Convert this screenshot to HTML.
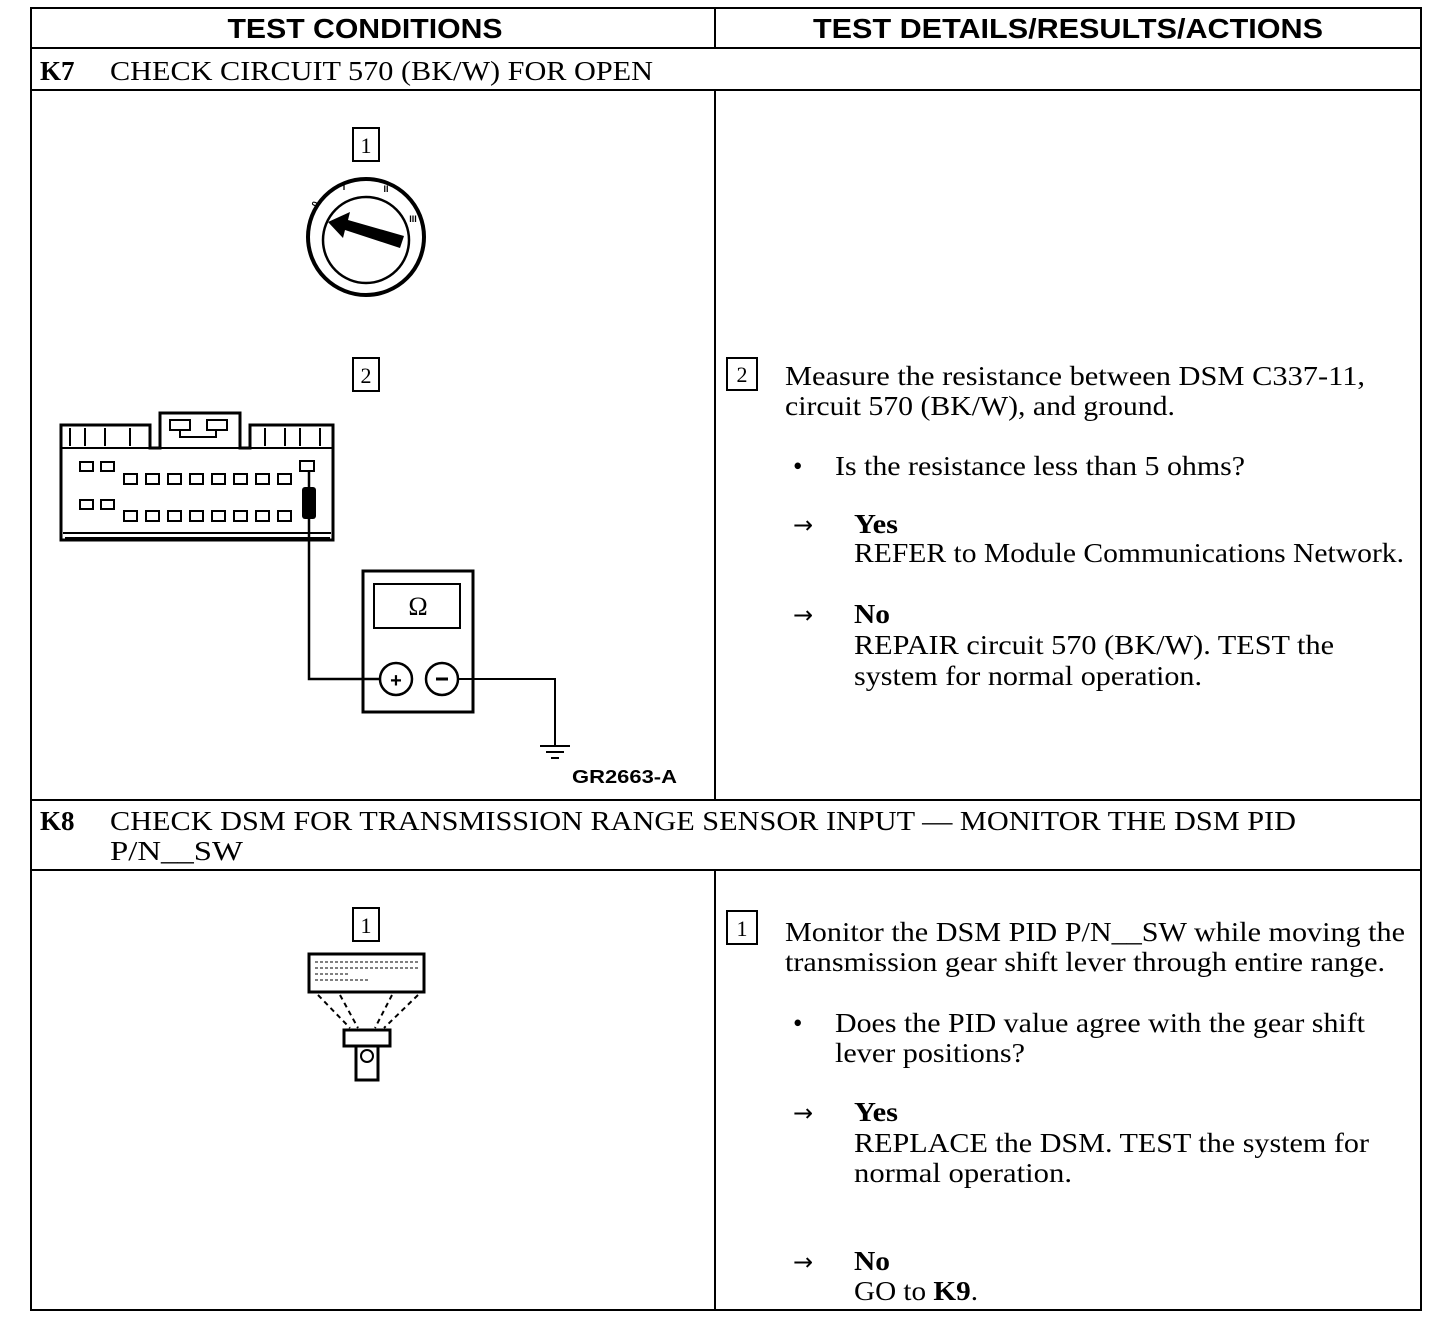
<!DOCTYPE html>
<html><head><meta charset="utf-8"><style>
html,body{margin:0;padding:0;background:#fff;}
svg{display:block}
.s{font-family:"Liberation Serif",serif;font-size:27px;fill:#000}
.h{font-family:"Liberation Sans",sans-serif;font-weight:bold;font-size:28px;fill:#000}
.b{font-weight:bold}
.a{font-family:"DejaVu Sans",sans-serif;font-size:24px;fill:#000}
</style></head><body>
<svg width="1456" height="1318" viewBox="0 0 1456 1318" xmlns="http://www.w3.org/2000/svg">
<g stroke="#000" stroke-width="2" fill="none">
<rect x="31" y="8" width="1390" height="1302"/>
<line x1="31" y1="48" x2="1421" y2="48"/>
<line x1="31" y1="90" x2="1421" y2="90"/>
<line x1="31" y1="800" x2="1421" y2="800"/>
<line x1="31" y1="870" x2="1421" y2="870"/>
<line x1="715" y1="8" x2="715" y2="48"/>
<line x1="715" y1="90" x2="715" y2="800"/>
<line x1="715" y1="870" x2="715" y2="1310"/>
</g>
<text class="h" x="365" y="38" text-anchor="middle" textLength="275" lengthAdjust="spacingAndGlyphs">TEST CONDITIONS</text>
<text class="h" x="1068" y="38" text-anchor="middle" textLength="510" lengthAdjust="spacingAndGlyphs">TEST DETAILS/RESULTS/ACTIONS</text>
<text class="s" x="40" y="80"><tspan class="b">K7</tspan></text>
<text class="s" x="110" y="80" textLength="543" lengthAdjust="spacingAndGlyphs">CHECK CIRCUIT 570 (BK/W) FOR OPEN</text>
<text class="s" x="40" y="830"><tspan class="b">K8</tspan></text>
<text class="s" x="110" y="830" textLength="1186" lengthAdjust="spacingAndGlyphs">CHECK DSM FOR TRANSMISSION RANGE SENSOR INPUT — MONITOR THE DSM PID</text>
<text class="s" x="110" y="860" textLength="133" lengthAdjust="spacingAndGlyphs">P/N__SW</text>

<g stroke="#000" stroke-width="2" fill="none">
<rect x="353" y="128" width="26" height="33"/>
<rect x="353" y="358" width="26" height="33"/>
<rect x="727" y="358" width="30" height="32"/>
<rect x="353" y="908" width="26" height="33"/>
<rect x="727" y="911" width="30" height="33"/>
</g>
<g class="s" style="font-size:22px" text-anchor="middle">
<text x="366" y="153">1</text><text x="366" y="383">2</text><text x="742" y="382">2</text>
<text x="366" y="933">1</text><text x="742" y="936">1</text>
</g>

<text class="s" x="785" y="385" textLength="580" lengthAdjust="spacingAndGlyphs">Measure the resistance between DSM C337-11,</text>
<text class="s" x="785" y="415" textLength="390" lengthAdjust="spacingAndGlyphs">circuit 570 (BK/W), and ground.</text>
<text class="s" x="793" y="475">•</text>
<text class="s" x="835" y="475" textLength="410" lengthAdjust="spacingAndGlyphs">Is the resistance less than 5 ohms?</text>
<text class="a" x="793" y="533">→</text><text class="s b" x="854" y="533" textLength="44" lengthAdjust="spacingAndGlyphs">Yes</text>
<text class="s" x="854" y="562" textLength="550" lengthAdjust="spacingAndGlyphs">REFER to Module Communications Network.</text>
<text class="a" x="793" y="623">→</text><text class="s b" x="854" y="623" textLength="36" lengthAdjust="spacingAndGlyphs">No</text>
<text class="s" x="854" y="654" textLength="480" lengthAdjust="spacingAndGlyphs">REPAIR circuit 570 (BK/W). TEST the</text>
<text class="s" x="854" y="685" textLength="348" lengthAdjust="spacingAndGlyphs">system for normal operation.</text>

<text class="s" x="785" y="941" textLength="620" lengthAdjust="spacingAndGlyphs">Monitor the DSM PID P/N__SW while moving the</text>
<text class="s" x="785" y="971" textLength="600" lengthAdjust="spacingAndGlyphs">transmission gear shift lever through entire range.</text>
<text class="s" x="793" y="1032">•</text>
<text class="s" x="835" y="1032" textLength="530" lengthAdjust="spacingAndGlyphs">Does the PID value agree with the gear shift</text>
<text class="s" x="835" y="1062" textLength="190" lengthAdjust="spacingAndGlyphs">lever positions?</text>
<text class="a" x="793" y="1121">→</text><text class="s b" x="854" y="1121" textLength="44" lengthAdjust="spacingAndGlyphs">Yes</text>
<text class="s" x="854" y="1152" textLength="515" lengthAdjust="spacingAndGlyphs">REPLACE the DSM. TEST the system for</text>
<text class="s" x="854" y="1182" textLength="218" lengthAdjust="spacingAndGlyphs">normal operation.</text>
<text class="a" x="793" y="1270">→</text><text class="s b" x="854" y="1270" textLength="36" lengthAdjust="spacingAndGlyphs">No</text>
<text class="s" x="854" y="1300" textLength="124" lengthAdjust="spacingAndGlyphs">GO to <tspan class="b">K9</tspan>.</text>

<g stroke="#000" fill="none">
<circle cx="366" cy="237" r="58" stroke-width="4"/>
<circle cx="366" cy="240" r="43" stroke-width="2.5"/>
</g>
<polygon points="328,222 350,212 348,220 404,236 400,248 345,230 343,238" fill="#000"/>
<g font-family="Liberation Sans,sans-serif" font-size="9" font-weight="bold" text-anchor="middle">
<text x="318" y="205" transform="rotate(-70 318 205)">0</text>
<text x="344" y="190">I</text><text x="386" y="192">II</text><text x="413" y="222">III</text>
</g>

<g stroke="#000" fill="none" stroke-width="2">
<path d="M61 540 L61 425 L150 425 L150 448 L160 448 L160 413 L240 413 L240 448 L250 448 L250 425 L333 425 L333 540 Z" stroke-width="3"/>
<line x1="61" y1="448" x2="333" y2="448"/>
<line x1="63" y1="533" x2="331" y2="533"/>
<line x1="65" y1="538" x2="330" y2="538"/>
<rect x="170" y="420" width="20" height="10"/><rect x="207" y="420" width="20" height="10"/>
<path d="M180 430 V437 H216 V430"/>
<line x1="70" y1="428" x2="70" y2="446"/><line x1="85" y1="428" x2="85" y2="446"/>
<line x1="105" y1="428" x2="105" y2="446"/><line x1="130" y1="428" x2="130" y2="446"/>
<line x1="265" y1="428" x2="265" y2="446"/><line x1="285" y1="428" x2="285" y2="446"/>
<line x1="300" y1="428" x2="300" y2="446"/><line x1="320" y1="428" x2="320" y2="446"/>
<rect x="80" y="462" width="13" height="9"/><rect x="101" y="462" width="13" height="9"/>
<rect x="80" y="500" width="13" height="9"/><rect x="101" y="500" width="13" height="9"/>
<rect x="300" y="461" width="14" height="10"/>
</g>
<g stroke="#000" fill="none" stroke-width="2">
<rect x="124" y="474" width="13" height="10"/><rect x="146" y="474" width="13" height="10"/><rect x="168" y="474" width="13" height="10"/><rect x="190" y="474" width="13" height="10"/><rect x="212" y="474" width="13" height="10"/><rect x="234" y="474" width="13" height="10"/><rect x="256" y="474" width="13" height="10"/><rect x="278" y="474" width="13" height="10"/>
<rect x="124" y="511" width="13" height="10"/><rect x="146" y="511" width="13" height="10"/><rect x="168" y="511" width="13" height="10"/><rect x="190" y="511" width="13" height="10"/><rect x="212" y="511" width="13" height="10"/><rect x="234" y="511" width="13" height="10"/><rect x="256" y="511" width="13" height="10"/><rect x="278" y="511" width="13" height="10"/>
</g>
<rect x="302" y="487" width="14" height="32" rx="3" fill="#000"/>
<g stroke="#000" fill="none">
<polyline points="309,471 309,679 380,679" stroke-width="2.5"/>
<polyline points="458,679 555,679 555,745" stroke-width="2"/>
<rect x="363" y="571" width="110" height="141" stroke-width="3"/>
<rect x="374" y="584" width="86" height="44" stroke-width="2"/>
<circle cx="396" cy="679" r="16" stroke-width="2.5"/>
<circle cx="442" cy="679" r="16" stroke-width="2.5"/>
<line x1="540" y1="746" x2="570" y2="746" stroke-width="2"/>
<line x1="546" y1="752" x2="564" y2="752" stroke-width="2"/>
<line x1="551" y1="758" x2="559" y2="758" stroke-width="2"/>
</g>
<text x="418" y="615" text-anchor="middle" font-family="Liberation Serif,serif" font-size="26">Ω</text>
<text x="396" y="687" text-anchor="middle" font-family="Liberation Sans,sans-serif" font-size="20" font-weight="bold">+</text>
<line x1="436" y1="679" x2="448" y2="679" stroke="#000" stroke-width="3"/>
<text x="572" y="783" font-family="Liberation Sans,sans-serif" font-size="18" font-weight="bold" textLength="105" lengthAdjust="spacingAndGlyphs">GR2663-A</text>

<g stroke="#000" fill="none">
<rect x="309" y="954" width="115" height="38" stroke-width="3"/>
<g stroke-width="2" stroke-dasharray="5,4">
<line x1="318" y1="995" x2="350" y2="1028"/><line x1="340" y1="995" x2="358" y2="1028"/>
<line x1="392" y1="995" x2="375" y2="1028"/><line x1="418" y1="995" x2="384" y2="1028"/>
</g>
<rect x="344" y="1030" width="46" height="16" stroke-width="3"/>
<rect x="356" y="1046" width="22" height="34" stroke-width="3"/>
<circle cx="367" cy="1056" r="6" stroke-width="2"/>
</g>
<g stroke="#000" stroke-width="1" stroke-dasharray="3,2">
<line x1="315" y1="962" x2="418" y2="962"/><line x1="315" y1="968" x2="418" y2="968"/>
<line x1="315" y1="974" x2="350" y2="974"/><line x1="315" y1="980" x2="370" y2="980"/>
</g>
</svg>
</body></html>
